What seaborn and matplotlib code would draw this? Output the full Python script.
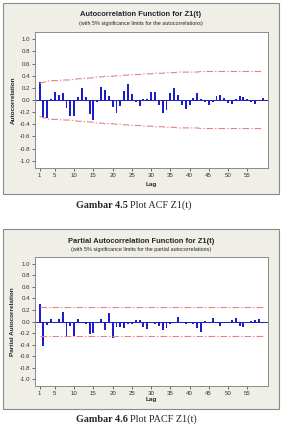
import matplotlib
matplotlib.use("Agg")
import matplotlib.pyplot as plt
import matplotlib.patches as mpatches
import numpy as np
import pandas as pd
import seaborn as sns

# Data
LAGS = list(range(1, 60))

ACF = [0.30, -0.29, -0.30, 0.02, 0.13, 0.09, 0.11, -0.13, -0.27, -0.27,
       0.05, 0.20, 0.05, -0.23, -0.33, -0.04, 0.21, 0.17, 0.07, -0.12,
       -0.22, -0.10, 0.15, 0.27, 0.10, -0.03, -0.10, 0.01, 0.02, 0.14,
       0.14, -0.09, -0.21, -0.16, 0.12, 0.19, 0.09, -0.09, -0.14, -0.09,
       0.04, 0.12, 0.02, -0.04, -0.09, -0.03, 0.07, 0.08, 0.04, -0.05,
       -0.07, 0.01, 0.07, 0.05, 0.02, -0.04, -0.07, 0.00, 0.03]

ACF_LIMIT = [0.27, 0.29, 0.31, 0.32, 0.32, 0.32, 0.33, 0.33, 0.33, 0.34,
             0.35, 0.35, 0.36, 0.36, 0.37, 0.38, 0.38, 0.39, 0.39, 0.39,
             0.40, 0.40, 0.41, 0.41, 0.42, 0.42, 0.42, 0.43, 0.43, 0.43,
             0.44, 0.44, 0.44, 0.45, 0.45, 0.45, 0.46, 0.46, 0.46, 0.46,
             0.46, 0.46, 0.47, 0.47, 0.47, 0.47, 0.47, 0.47, 0.47, 0.47,
             0.47, 0.47, 0.47, 0.47, 0.47, 0.47, 0.47, 0.47, 0.47]

PACF = [0.31, -0.43, -0.06, 0.04, -0.02, 0.05, 0.17, -0.27, -0.08, -0.26,
        0.05, -0.03, -0.05, -0.22, -0.20, -0.02, 0.04, -0.15, 0.15, -0.28,
        -0.10, -0.09, -0.12, -0.05, -0.04, 0.02, 0.03, -0.09, -0.13, -0.02,
        -0.05, -0.08, -0.15, -0.11, -0.04, -0.03, 0.07, -0.02, -0.04, -0.02,
        -0.05, -0.12, -0.19, 0.01, -0.03, 0.06, -0.02, -0.07, -0.03, -0.02,
        0.02, 0.06, -0.08, -0.10, -0.01, 0.01, 0.03, 0.04, -0.02]

PACF_LIMIT = 0.26

X_TICKS = [1, 5, 10, 15, 20, 25, 30, 35, 40, 45, 50, 55]
Y_TICKS = [-1.0, -0.8, -0.6, -0.4, -0.2, 0.0, 0.2, 0.4, 0.6, 0.8, 1.0]

W, H = 282, 425
BAR_COLOR = "#1c1cc8"
LIMIT_COLOR = "#e48484"
PANEL_COLOR = "#efeee7"

sns.set_theme(style="white")
plt.rcParams["font.family"] = ["Liberation Sans", "DejaVu Sans"]

fig = plt.figure(figsize=(W / 100, H / 100), dpi=100)
fig.patch.set_facecolor("white")


def fx(x):
    return x / W


def fy(y):
    return 1 - y / H


def panel(top, bottom):
    rect = mpatches.Rectangle((fx(2.5), fy(bottom)), fx(276.5), (bottom - top) / H,
                              transform=fig.transFigure, facecolor=PANEL_COLOR,
                              edgecolor="#8a8a8a", linewidth=0.8, zorder=-5)
    fig.patches.append(rect)


def draw(top, bottom, values, upper, ylabel, title, subtitle, cap_bold, cap_rest,
         title_y, sub_y, lag_y, cap_y):
    ax = fig.add_axes([fx(35), fy(bottom), fx(268 - 35), (bottom - top) / H])
    ax.set_zorder(2)
    ax.set_facecolor("white")
    df = pd.DataFrame({"Lag": LAGS, "Value": values, "Upper": upper})
    df["Lower"] = -df["Upper"]
    sns.barplot(data=df, x="Lag", y="Value", native_scale=True, width=0.5,
                color=BAR_COLOR, saturation=1, linewidth=0, ax=ax)
    ax.axhline(0, color=BAR_COLOR, linewidth=0.7, zorder=1)
    for col in ["Upper", "Lower"]:
        sns.lineplot(data=df, x="Lag", y=col, color=LIMIT_COLOR, linewidth=0.8,
                     dashes=False, ax=ax)
    for line in ax.lines[-2:]:
        line.set_dashes([6, 1.8, 1.2, 1.8])
    ax.set_xlim(-0.2, 60.4)
    ax.set_ylim(-1.12, 1.12)
    ax.set_xticks(X_TICKS)
    ax.set_yticks(Y_TICKS)
    ax.set_yticklabels([f"{t:.1f}" for t in Y_TICKS])
    ax.tick_params(axis="both", direction="out", length=2, width=0.5, pad=1.5,
                   labelsize=4.4, colors="#333333", left=True, bottom=True)
    for sp in ax.spines.values():
        sp.set_color("#8a8a8a")
        sp.set_linewidth(0.7)
    ax.set_xlabel("")
    ax.set_ylabel(ylabel, fontsize=4.6, fontweight="bold", labelpad=3)

    fig.text(0.5, fy(title_y), title, ha="center", va="center", fontsize=5.4,
             fontweight="bold")
    fig.text(0.5, fy(sub_y), subtitle, ha="center", va="center", fontsize=3.9)
    fig.text(fx(151), fy(lag_y), "Lag", ha="center", va="center", fontsize=4.6,
             fontweight="bold")
    fig.text(fx(128), fy(cap_y), cap_bold, ha="right", va="center", fontsize=7.3,
             fontweight="bold", family="Liberation Serif")
    fig.text(fx(130), fy(cap_y), cap_rest, ha="left", va="center", fontsize=7.3,
             family="Liberation Serif")
    return ax


panel(3, 194)
panel(229, 409)

draw(32, 168, ACF, ACF_LIMIT, "Autocorrelation",
     "Autocorrelation Function for Z1(t)",
     "(with 5% significance limits for the autocorrelations)",
     "Gambar 4.5", "Plot ACF Z1(t)", 14, 23, 184.5, 205)

draw(257, 386, PACF, [PACF_LIMIT] * len(LAGS), "Partial Autocorrelation",
     "Partial Autocorrelation Function for Z1(t)",
     "(with 5% significance limits for the partial autocorrelations)",
     "Gambar 4.6", "Plot PACF Z1(t)", 241.5, 250, 400, 419)

fig.savefig("out.png", dpi=100)
